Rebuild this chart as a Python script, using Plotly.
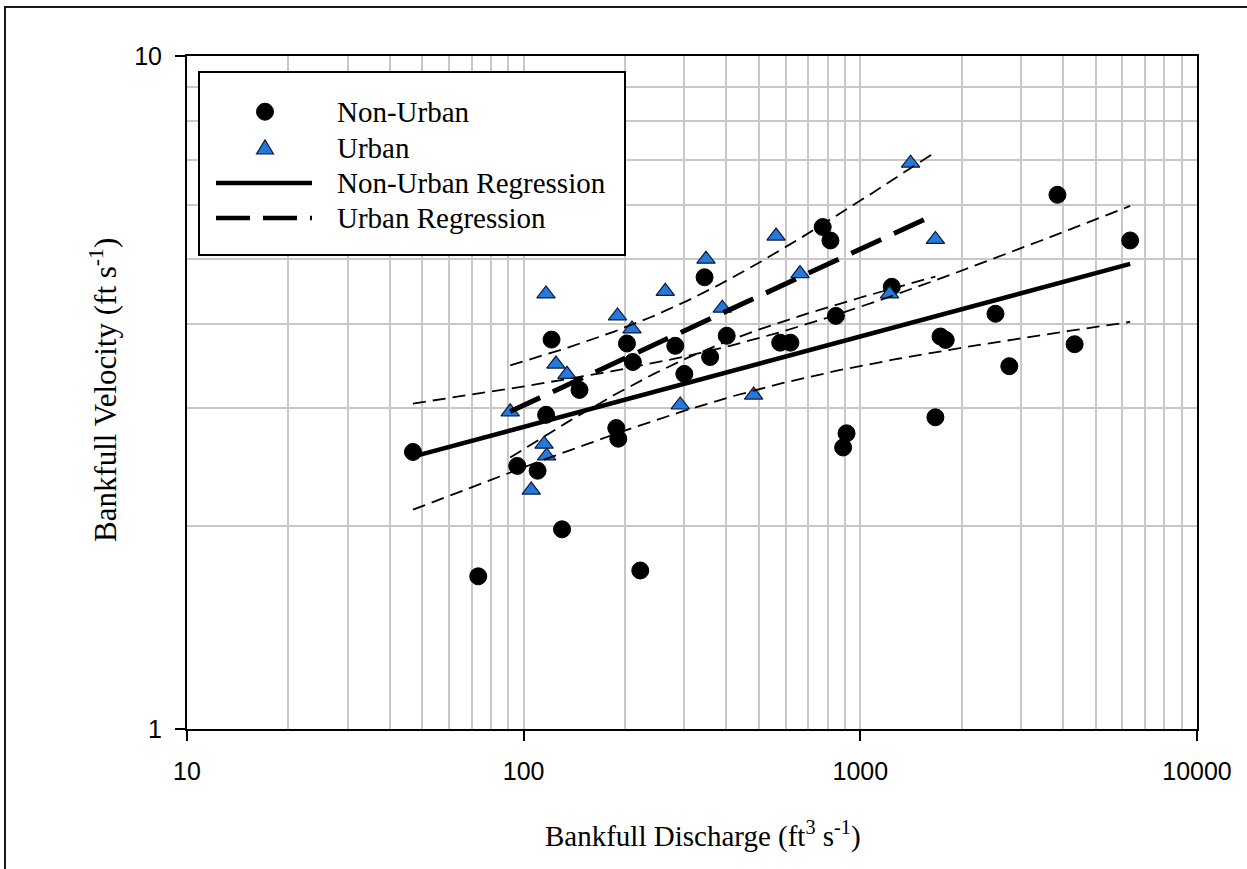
import numpy as np
import plotly.graph_objects as go

# ---- Site data: bankfull discharge (ft^3/s) and bankfull velocity (ft/s) ----
nonurban_q = [46.9, 73.3, 95.7, 110, 116.6, 121, 130, 146.5, 188.4, 191,
              202.7, 211, 222, 282, 300, 344.6, 358, 401, 578, 620,
              773, 815, 846, 889, 910, 1240, 1671, 1730, 1793, 2520,
              2770, 3850, 4330, 6330]
nonurban_v = [2.58, 1.686, 2.46, 2.42, 2.93, 3.79, 1.98, 3.19, 2.80, 2.70,
              3.74, 3.51, 1.72, 3.71, 3.37, 4.69, 3.57, 3.84, 3.75, 3.75,
              5.57, 5.32, 4.11, 2.62, 2.75, 4.54, 2.905, 3.83, 3.785, 4.14,
              3.46, 6.22, 3.73, 5.32]

urban_q = [91.2, 116.5, 115, 117, 105.3, 124.7, 134.5, 190, 209.8, 263.4,
           291.8, 348, 389, 482, 562, 662, 1221, 1410, 1671]
urban_v = [2.96, 4.43, 2.65, 2.545, 2.265, 3.485, 3.365, 4.11, 3.93, 4.47,
           3.03, 4.99, 4.22, 3.135, 5.40, 4.75, 4.43, 6.93, 5.34]

# Power-law regressions V = coef * Q**expo (log10 V = log10 coef + expo * log10 Q)
nonurban_coef, nonurban_expo = 1.514, 0.1344
urban_coef, urban_expo = 1.040, 0.2320

# Axis ticks
x_major = [10, 100, 1000, 10000]
x_minor = [m * 10 ** e for e in (1, 2, 3) for m in range(2, 10)]
y_major = [1, 10]
y_minor = list(range(2, 10))

# two-sided 95% Student t quantiles for n-2 degrees of freedom
T975 = {17: 2.1098, 32: 2.0369}

# ---- Layout geometry (pixels) ----
FIG_W, FIG_H = 1247, 869
M_L, M_R, M_T, M_B = 187, 50, 56, 140
PLOT_W = FIG_W - M_L - M_R
PLOT_H = FIG_H - M_T - M_B


def px_x(p):
    return (p - M_L) / PLOT_W


def px_y(p):
    return (M_T + PLOT_H - p) / PLOT_H


def regression_band(q, v, coef, expo, n_grid=200):
    """Regression line over the data range with the 95% confidence band of the mean."""
    lx = np.log10(np.asarray(q, dtype=float))
    ly = np.log10(np.asarray(v, dtype=float))
    n = len(lx)
    icpt = np.log10(coef)
    resid = ly - (icpt + expo * lx)
    s = np.sqrt(np.sum(resid ** 2) / (n - 2))
    sxx = np.sum((lx - lx.mean()) ** 2)
    gx = np.linspace(lx.min(), lx.max(), n_grid)
    fit = icpt + expo * gx
    half = T975[n - 2] * s * np.sqrt(1.0 / n + (gx - lx.mean()) ** 2 / sxx)
    return 10 ** gx, 10 ** fit, 10 ** (fit + half), 10 ** (fit - half)


nu_x, nu_fit, nu_hi, nu_lo = regression_band(nonurban_q, nonurban_v, nonurban_coef, nonurban_expo)
ur_x, ur_fit, ur_hi, ur_lo = regression_band(urban_q, urban_v, urban_coef, urban_expo)

BLUE = "#2479db"
EDGE = "#0b1c3c"
CI_DASH = "13px,7px"
UR_DASH = "33px,14px"

fig = go.Figure()

fig.add_trace(go.Scatter(
    x=nonurban_q, y=nonurban_v, mode="markers", name="Non-Urban",
    marker=dict(symbol="circle", size=17, color="black",
                line=dict(color="black", width=1)),
    hoverinfo="x+y"))
fig.add_trace(go.Scatter(
    x=urban_q, y=urban_v, mode="markers", name="Urban",
    marker=dict(symbol="triangle-up", size=16, color=BLUE,
                line=dict(color=EDGE, width=1.2)),
    hoverinfo="x+y"))

# confidence bands
for xs, ys in ((nu_x, nu_hi), (nu_x, nu_lo), (ur_x, ur_hi), (ur_x, ur_lo)):
    fig.add_trace(go.Scatter(x=xs, y=ys, mode="lines", showlegend=False,
                             line=dict(color="black", width=1.8, dash=CI_DASH),
                             hoverinfo="skip"))

# regression lines
fig.add_trace(go.Scatter(x=nu_x, y=nu_fit, mode="lines", name="Non-Urban Regression",
                         line=dict(color="black", width=4.5), hoverinfo="skip"))
fig.add_trace(go.Scatter(x=ur_x, y=ur_fit, mode="lines", name="Urban Regression",
                         line=dict(color="black", width=5, dash=UR_DASH),
                         hoverinfo="skip"))

grid_col = "#c8c8c8"
axis_common = dict(
    type="log", ticks="outside", ticklen=10, tickwidth=1.5, tickcolor="black",
    showline=True, linecolor="black", linewidth=2, mirror=True,
    showgrid=True, gridcolor=grid_col, gridwidth=1.5, zeroline=False,
    tickfont=dict(family="Liberation Sans, Arial, sans-serif", size=25, color="black"),
)

fig.update_xaxes(
    range=[1, 4], tickvals=x_major, ticktext=[str(v) for v in x_major],
    minor=dict(tickvals=x_minor, showgrid=True, gridcolor=grid_col, gridwidth=1.5, ticks=""),
    ticklabelstandoff=9, **axis_common)
fig.update_yaxes(
    range=[0, 1], tickvals=y_major, ticktext=[str(v) for v in y_major],
    minor=dict(tickvals=y_minor, showgrid=True, gridcolor=grid_col, gridwidth=1.5, ticks=""),
    ticklabelstandoff=8, **axis_common)

serif_family = "Liberation Serif, Times New Roman, serif"
serif = dict(family=serif_family, size=29, color="black")

shapes = []
annotations = []

# outer frame (top and left edges)
shapes.append(dict(type="path", xref="paper", yref="paper",
                   path=f"M{px_x(5)},{px_y(FIG_H + 20)} L{px_x(5)},{px_y(7)} L{px_x(FIG_W + 20)},{px_y(7)}",
                   line=dict(color="#1a1a1a", width=2), layer="above"))

# legend box
shapes.append(dict(type="rect", xref="paper", yref="paper",
                   x0=px_x(199), x1=px_x(625), y0=px_y(255), y1=px_y(72),
                   fillcolor="white", line=dict(color="black", width=2), layer="above"))

rows = [111.7, 148, 183, 218]
labels = ["Non-Urban", "Urban", "Non-Urban Regression", "Urban Regression"]
sym_x = 265

# circle symbol
shapes.append(dict(type="circle", xref="paper", yref="paper",
                   xsizemode="pixel", ysizemode="pixel",
                   xanchor=px_x(sym_x), yanchor=px_y(rows[0]),
                   x0=-8.5, x1=8.5, y0=-8.5, y1=8.5,
                   fillcolor="black", line=dict(color="black", width=1), layer="above"))
# triangle symbol
shapes.append(dict(type="path", xref="paper", yref="paper",
                   xsizemode="pixel", ysizemode="pixel",
                   xanchor=px_x(sym_x), yanchor=px_y(rows[1]),
                   path="M-8.5,-6 L8.5,-6 L0,8 Z",
                   fillcolor=BLUE, line=dict(color=EDGE, width=1.2), layer="above"))
# line samples
shapes.append(dict(type="line", xref="paper", yref="paper",
                   x0=px_x(216), x1=px_x(312), y0=px_y(rows[2]), y1=px_y(rows[2]),
                   line=dict(color="black", width=4.5), layer="above"))
shapes.append(dict(type="line", xref="paper", yref="paper",
                   x0=px_x(216), x1=px_x(312), y0=px_y(rows[3]), y1=px_y(rows[3]),
                   line=dict(color="black", width=4.5, dash="34px,13px"), layer="above"))

for r, lab in zip(rows, labels):
    annotations.append(dict(xref="paper", yref="paper", x=px_x(335), y=px_y(r),
                            xanchor="left", yanchor="middle", text=lab,
                            showarrow=False, font=serif))

# axis titles
annotations.append(dict(xref="paper", yref="paper", x=px_x(703), y=px_y(835),
                        xanchor="center", yanchor="middle",
                        text="Bankfull Discharge (ft<sup>3</sup> s<sup>-1</sup>)",
                        showarrow=False, font=serif))
annotations.append(dict(xref="paper", yref="paper", x=px_x(103), y=px_y(390),
                        xanchor="center", yanchor="middle", textangle=-90,
                        text="Bankfull Velocity (ft s<sup>-1</sup>)",
                        showarrow=False, font=dict(family=serif_family, size=31, color="black")))

fig.update_layout(
    width=FIG_W, height=FIG_H,
    margin=dict(l=M_L, r=M_R, t=M_T, b=M_B, autoexpand=False),
    paper_bgcolor="white", plot_bgcolor="white",
    showlegend=False,
    shapes=shapes, annotations=annotations,
)

fig.write_html("out.html", include_plotlyjs=True)
